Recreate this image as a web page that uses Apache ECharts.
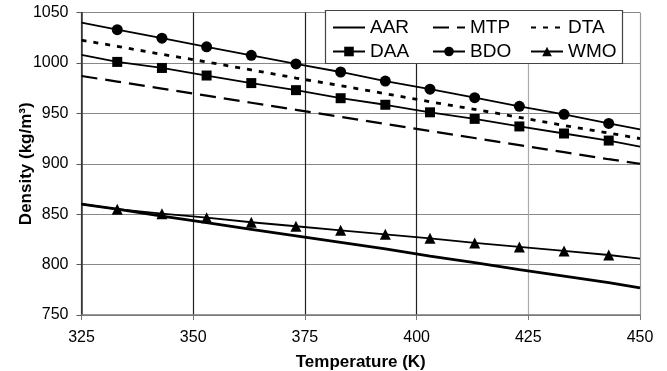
<!DOCTYPE html>
<html>
<head>
<meta charset="utf-8">
<script src="https://cdn.jsdelivr.net/npm/echarts@6/dist/echarts.min.js"></script>
<style>
  html, body { margin: 0; padding: 0; background: #fff; }
</style>
</head>
<body>
<div id="box" style="width: 667px;height: 371px;"></div>
<script>
// temperatures (K): line ends plus the measured points
var temps = [325, 333, 343, 353, 363, 373, 383, 393, 403, 413, 423, 433, 443, 450];

var aar = [860, 855, 848, 841.5, 835, 828.5, 822, 815.5, 808.5, 802, 795, 788.5, 782, 777];
var mtp = [987, 981.5, 974.5, 967.5, 960.5, 953.5, 946.5, 939.5, 932.5, 925.5, 918.5, 911.5, 904.5, 900];
var dta = [1022.5, 1016.5, 1008.5, 1001, 993, 985, 977.5, 969.5, 961.5, 954, 946, 938, 930.5, 925];
var daa = [1008, 1001, 995, 987.5, 980, 973, 965, 958.5, 951, 944.5, 937, 930, 923, 917];
var bdo = [1040, 1033, 1024.5, 1016, 1007.5, 999, 991, 982, 974, 965.5, 957, 949, 940, 934];
var wmo = [860, 855, 850.5, 846.5, 842, 838, 834, 830, 826, 821.5, 817.5, 813.5, 809.5, 806];

var xTicks = [325, 350, 375, 400, 425, 450];
var yTicks = [750, 800, 850, 900, 950, 1000, 1050];

// markers only on measured points, not on the line ends
function pairs(vals) {
	return temps.map(function (t, i) {
		var last = i === 0 || i === temps.length - 1;
		return last ? { value: [t, vals[i]], symbol: 'none' } : [t, vals[i]];
	});
}

var font = 'Liberation Sans, Arial, sans-serif';

function lineSeries(name, vals, type, width, sym, size) {
	return {
		name: name,
		type: 'line',
		data: pairs(vals),
		symbol: sym || 'none',
		symbolSize: size || 0,
		showAllSymbol: true,
		lineStyle: { color: '#000', width: width, type: type },
		itemStyle: { color: '#000' },
		emphasis: { disabled: true },
		animation: false,
		z: 3
	};
}

// plain lines get no marker in the legend
function legendItem(name) {
	var plain = ['AAR', 'MTP', 'DTA'].indexOf(name) > -1;
	return plain ? { name: name, itemStyle: { opacity: 0 } } : { name: name };
}

function legendCol(left, names) {
	return {
		orient: 'vertical',
		left: left,
		top: 18,
		z: 10,
		padding: 0,
		itemGap: 5,
		itemWidth: 32,
		itemHeight: 12,
		textStyle: { fontFamily: font, fontSize: 19, color: '#000' },
		data: names.map(legendItem)
	};
}

var chartDom = document.getElementById('box');
var myChart = echarts.init(chartDom, null, { renderer: 'canvas' });

var option = {
	backgroundColor: '#fff',
	grid: { left: 81.5, right: 27, top: 12.5, bottom: 56, outerBoundsMode: 'none' },
	xAxis: {
		type: 'value',
		min: xTicks[0],
		max: xTicks[xTicks.length - 1],
		interval: 25,
		name: 'Temperature (K)',
		nameLocation: 'middle',
		nameGap: 39,
		nameMoveOverlap: false,
		nameTextStyle: { fontFamily: font, fontSize: 17, fontWeight: 'bold', color: '#000' },
		axisLine: { lineStyle: { color: '#777', width: 1.5 } },
		axisTick: { show: true, inside: false, length: 5, lineStyle: { color: '#777' } },
		axisLabel: { margin: 15, fontFamily: font, fontSize: 16, color: '#000', showMinLabel: true, showMaxLabel: true },
		splitLine: { show: true, lineStyle: { color: ['#444', '#222', '#222', '#222', '#aaa', '#999'], width: 1.2 } }
	},
	yAxis: {
		type: 'value',
		min: yTicks[0],
		max: yTicks[yTicks.length - 1],
		interval: 50,
		name: 'Density (kg/m³)',
		nameLocation: 'middle',
		nameGap: 47,
		nameMoveOverlap: false,
		nameTextStyle: { fontFamily: font, fontSize: 17, fontWeight: 'bold', color: '#000' },
		axisLine: { show: true, lineStyle: { color: '#333', width: 1.5 } },
		axisTick: { show: true, inside: false, length: 5, lineStyle: { color: '#555' } },
		axisLabel: { margin: 13, fontFamily: font, fontSize: 16, color: '#000', formatter: function (v) { return String(v); } },
		splitLine: { show: true, lineStyle: { color: '#888', width: 1.2 } }
	},
	legend: [
		legendCol(332, ['AAR', 'DAA']),
		legendCol(432, ['MTP', 'BDO']),
		legendCol(530, ['DTA', 'WMO'])
	],
	graphic: [{
		type: 'rect',
		shape: { x: 325.5, y: 10.5, width: 297, height: 53 },
		style: { fill: '#fff', stroke: '#444', lineWidth: 1.2 },
		z: 5
	}],
	series: [
		lineSeries('AAR', aar, 'solid', 2.8),
		lineSeries('MTP', mtp, [16, 8], 2.2),
		lineSeries('DTA', dta, [5, 7], 2.8),
		lineSeries('DAA', daa, 'solid', 1.8, 'rect', 10),
		lineSeries('BDO', bdo, 'solid', 1.8, 'circle', 11),
		lineSeries('WMO', wmo, 'solid', 1.8, 'triangle', 11)
	]
};

myChart.setOption(option);
</script>
</body>
</html>
